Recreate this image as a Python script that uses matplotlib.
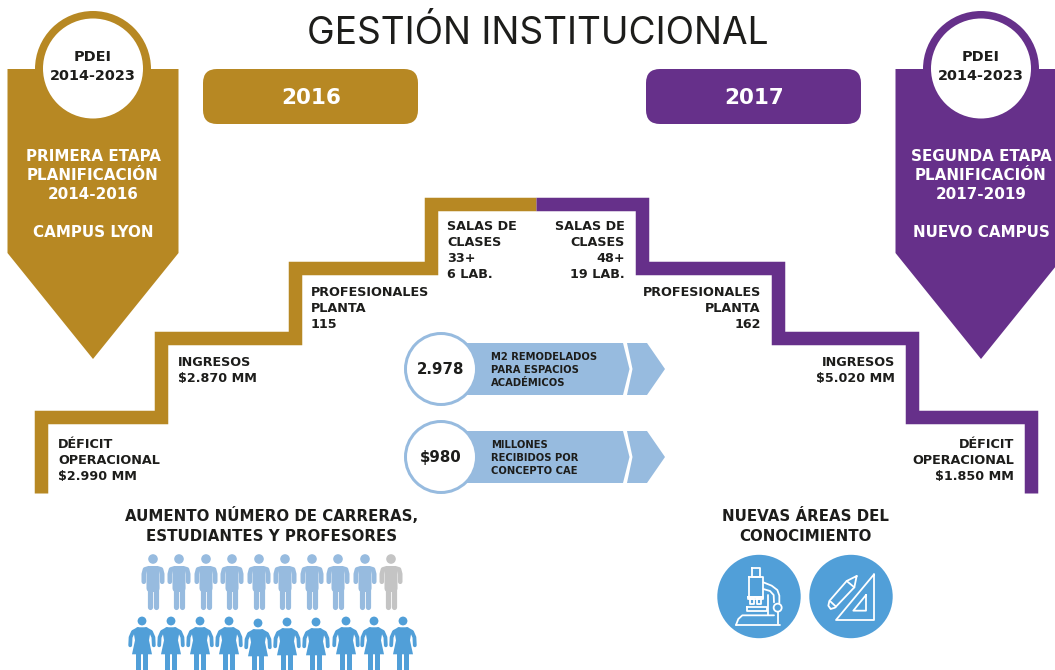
import matplotlib
matplotlib.use('Agg')
import matplotlib.pyplot as plt
from matplotlib.patches import Polygon, Circle, FancyBboxPatch, Rectangle

plt.rcParams['font.family'] = ['DejaVu Sans']

GOLD = '#B78823'
PURPLE = '#66308A'
DARK = '#1D1D1B'
LIGHT = '#97BBDF'
BLUE = '#519FD8'
GREY = '#C4C4C4'

# text content
title = 'GESTIÓN INSTITUCIONAL'
years = ['2016', '2017']
stage_left = ['PRIMERA ETAPA', 'PLANIFICACIÓN', '2014-2016', '', 'CAMPUS LYON']
stage_right = ['SEGUNDA ETAPA', 'PLANIFICACIÓN', '2017-2019', '', 'NUEVO CAMPUS']
left_deficit = ['DÉFICIT', 'OPERACIONAL', '$2.990 MM']
left_ingresos = ['INGRESOS', '$2.870 MM']
left_prof = ['PROFESIONALES', 'PLANTA', '115']
left_salas = ['SALAS DE', 'CLASES', '33+', '6 LAB.']
right_salas = ['SALAS DE', 'CLASES', '48+', '19 LAB.']
right_prof = ['PROFESIONALES', 'PLANTA', '162']
right_ingresos = ['INGRESOS', '$5.020 MM']
right_deficit = ['DÉFICIT', 'OPERACIONAL', '$1.850 MM']
arrow_values = ['2.978', '$980']
arrow_labels = [['M2 REMODELADOS', 'PARA ESPACIOS', 'ACADÉMICOS'],
                ['MILLONES', 'RECIBIDOS POR', 'CONCEPTO CAE']]

# people row positions
men_x = [153, 179, 206, 232, 259, 285, 312, 338, 365, 391]
women_x = [142, 171, 200, 229, 258, 287, 316, 346, 374, 403]
women_head = [621, 621, 621, 621, 623, 622, 622, 621, 621, 621]

fig = plt.figure(figsize=(10.55, 6.7), dpi=100)
ax = fig.add_axes([0, 0, 1, 1])
ax.set_xlim(0, 1055)
ax.set_ylim(670, 0)
ax.axis('off')

PX = 0.72  # pixels to points


def lines(x, y, rows, size, color=DARK, ha='left', step=16):
    # y is the middle of the capitals of the first row
    off = size / PX * 0.729 / 2
    for i, r in enumerate(rows):
        ax.text(x, y + i * step + off, r, fontsize=size, color=color, ha=ha, va='baseline', fontweight='bold')


def stroke(xs, ys, lw, color='white'):
    ax.plot(xs, ys, color=color, lw=lw * PX, solid_capstyle='round', solid_joinstyle='round')


def badge(cx, color, rows):
    ax.add_patch(Polygon([(cx - 85.5, 69), (cx + 85.5, 69), (cx + 85.5, 253), (cx, 359), (cx - 85.5, 253)], color=color, lw=0))
    ax.add_patch(Circle((cx, 69), 58, color=color, lw=0))
    ax.add_patch(Circle((cx, 68.5), 50, color='white', lw=0))
    lines(cx, 56, ['PDEI', '2014-2023'], 10.4, step=19, ha='center')
    lines(cx, 155, rows, 10.9, color='white', ha='center', step=19)


def year_box(x, color, label):
    ax.add_patch(FancyBboxPatch((x, 69), 215, 55, boxstyle='round,pad=0,rounding_size=14', color=color, lw=0))
    lines(x + 108, 96, [label], 15.5, color='white', ha='center')


def arrow_row(cy, value, rows):
    top, bot = cy - 26, cy + 26
    ax.add_patch(Polygon([(450, top), (623, top), (629.5, cy), (623, bot), (450, bot)], color=LIGHT, lw=0))
    ax.add_patch(Polygon([(627, top), (647, top), (665, cy), (647, bot), (627, bot), (632.5, cy)], color=LIGHT, lw=0))
    ax.add_patch(Circle((441, cy), 35.5, facecolor='white', edgecolor=LIGHT, lw=3 * PX))
    lines(441, cy, [value], 10.8, ha='center')
    lines(491, cy - 13, rows, 7.2, step=13)


def man(x, color):
    ax.add_patch(Circle((x, 559), 4.8, color=color, lw=0))
    ax.add_patch(FancyBboxPatch((x - 6.5, 566), 13, 26, boxstyle='round,pad=0,rounding_size=4', color=color, lw=0))
    stroke([x - 9.2, x - 9.2, x - 8, x - 4], [581.8, 574, 569.4, 568.2], 4.6, color)
    stroke([x + 9.2, x + 9.2, x + 8, x + 4], [581.8, 574, 569.4, 568.2], 4.6, color)
    stroke([x - 3.2, x - 3.2], [585, 606.5], 5.2, color)
    stroke([x + 3.2, x + 3.2], [585, 606.5], 5.2, color)


def woman(x, head, color):
    ax.add_patch(Circle((x, head), 4.4, color=color, lw=0))
    s = head + 6.3
    ax.add_patch(Polygon([(x - 5, s), (x + 5, s), (x + 8.5, s + 4), (x + 7, s + 13), (x + 10, s + 27), (x - 10, s + 27),
                          (x - 7, s + 13), (x - 8.5, s + 4)], color=color, lw=0))
    stroke([x - 11.8, x - 11.4, x - 9, x - 4], [s + 18, s + 10, s + 4.5, s + 1.8], 3.8, color)
    stroke([x + 11.8, x + 11.4, x + 9, x + 4], [s + 18, s + 10, s + 4.5, s + 1.8], 3.8, color)
    ax.add_patch(Rectangle((x - 6, s + 27), 4.7, 670 - s - 27, color=color, lw=0))
    ax.add_patch(Rectangle((x + 1.3, s + 27), 4.7, 670 - s - 27, color=color, lw=0))


def zoom_line(pts, ox, oy, lw=1.8, close=False):
    if close:
        pts = pts + pts[:1]
    stroke([ox + p[0] / 3 for p in pts], [oy + p[1] / 3 for p in pts], lw)


def box(x0, y0, x1, y1):
    return [(x0, y0), (x1, y0), (x1, y1), (x0, y1)]


def microscope(ox, oy):
    zoom_line(box(155, 68, 180, 95), ox, oy, close=True)
    zoom_line(box(146, 95, 188, 155), ox, oy, close=True)
    zoom_line(box(143, 155, 190, 162), ox, oy, close=True)
    zoom_line(box(150, 162, 163, 177), ox, oy, close=True)
    zoom_line(box(170, 162, 184, 177), ox, oy, close=True)
    zoom_line(box(141, 187, 200, 198), ox, oy, close=True)
    zoom_line([(190, 112), (215, 122), (232, 135), (238, 152), (238, 174)], ox, oy)
    zoom_line([(190, 132), (210, 138), (221, 150), (222, 172)], ox, oy)
    zoom_line([(205, 150), (205, 210)], ox, oy)
    zoom_line([(233, 200), (233, 238)], ox, oy)
    zoom_line([(108, 240), (115, 222), (127, 211), (222, 211)], ox, oy)
    zoom_line([(108, 240), (240, 240)], ox, oy)
    ax.add_patch(Circle((ox + 233 / 3, oy + 188 / 3), 4, facecolor=BLUE, edgecolor='white', lw=1.8 * PX))


def drafting(ox, oy):
    zoom_line([(522, 88), (522, 225), (408, 225)], ox, oy, close=True)
    zoom_line([(498, 150), (498, 197), (460, 197)], ox, oy, close=True)
    zoom_line([(470, 93), (463, 127), (405, 188), (392, 192), (385, 182), (388, 168), (440, 108)], ox, oy, close=True)
    zoom_line([(440, 108), (463, 127)], ox, oy)
    zoom_line([(392, 170), (408, 185)], ox, oy)


# title is the only light text, drawn in Inter
ax.text(537.5, 43.5, title, fontsize=26.7, color=DARK, ha='center', va='baseline', family=['Inter', 'DejaVu Sans'])

badge(93, GOLD, stage_left)
badge(981, PURPLE, stage_right)
year_box(203, GOLD, years[0])
year_box(646, PURPLE, years[1])

# stairs, both sides
ax.plot([41, 41, 160.5, 160.5, 294.5, 294.5, 430.5, 430.5, 536],
        [493, 417, 417, 337.5, 337.5, 267.5, 267.5, 203.5, 203.5],
        color=GOLD, lw=13.5 * PX, solid_joinstyle='miter', solid_capstyle='butt')
ax.plot([536, 641.5, 641.5, 777.5, 777.5, 911.5, 911.5, 1030.5, 1030.5],
        [203.5, 203.5, 267.5, 267.5, 337.5, 337.5, 417, 417, 493],
        color=PURPLE, lw=13.5 * PX, solid_joinstyle='miter', solid_capstyle='butt')

lines(58, 443, left_deficit, 9.2)
lines(178, 361, left_ingresos, 9.2)
lines(311, 291, left_prof, 9.2)
lines(447, 225, left_salas, 9.2)
lines(625, 225, right_salas, 9.2, ha='right')
lines(761, 291, right_prof, 9.2, ha='right')
lines(895, 361, right_ingresos, 9.2, ha='right')
lines(1014, 443, right_deficit, 9.2, ha='right')

arrow_row(369, arrow_values[0], arrow_labels[0])
arrow_row(457, arrow_values[1], arrow_labels[1])

lines(272, 516, ['AUMENTO NÚMERO DE CARRERAS,', 'ESTUDIANTES Y PROFESORES'], 10.8, ha='center', step=20)
lines(805, 516, ['NUEVAS ÁREAS DEL', 'CONOCIMIENTO'], 10.8, ha='center', step=20)

for i, x in enumerate(men_x):
    man(x, GREY if i == len(men_x) - 1 else LIGHT)
for x, h in zip(women_x, women_head):
    woman(x, h, BLUE)

ax.add_patch(Circle((759, 596.5), 41.7, color=BLUE, lw=0))
ax.add_patch(Circle((851, 596.5), 41.7, color=BLUE, lw=0))
microscope(700, 545)
drafting(700, 545)

fig.savefig('out.png', dpi=100)
